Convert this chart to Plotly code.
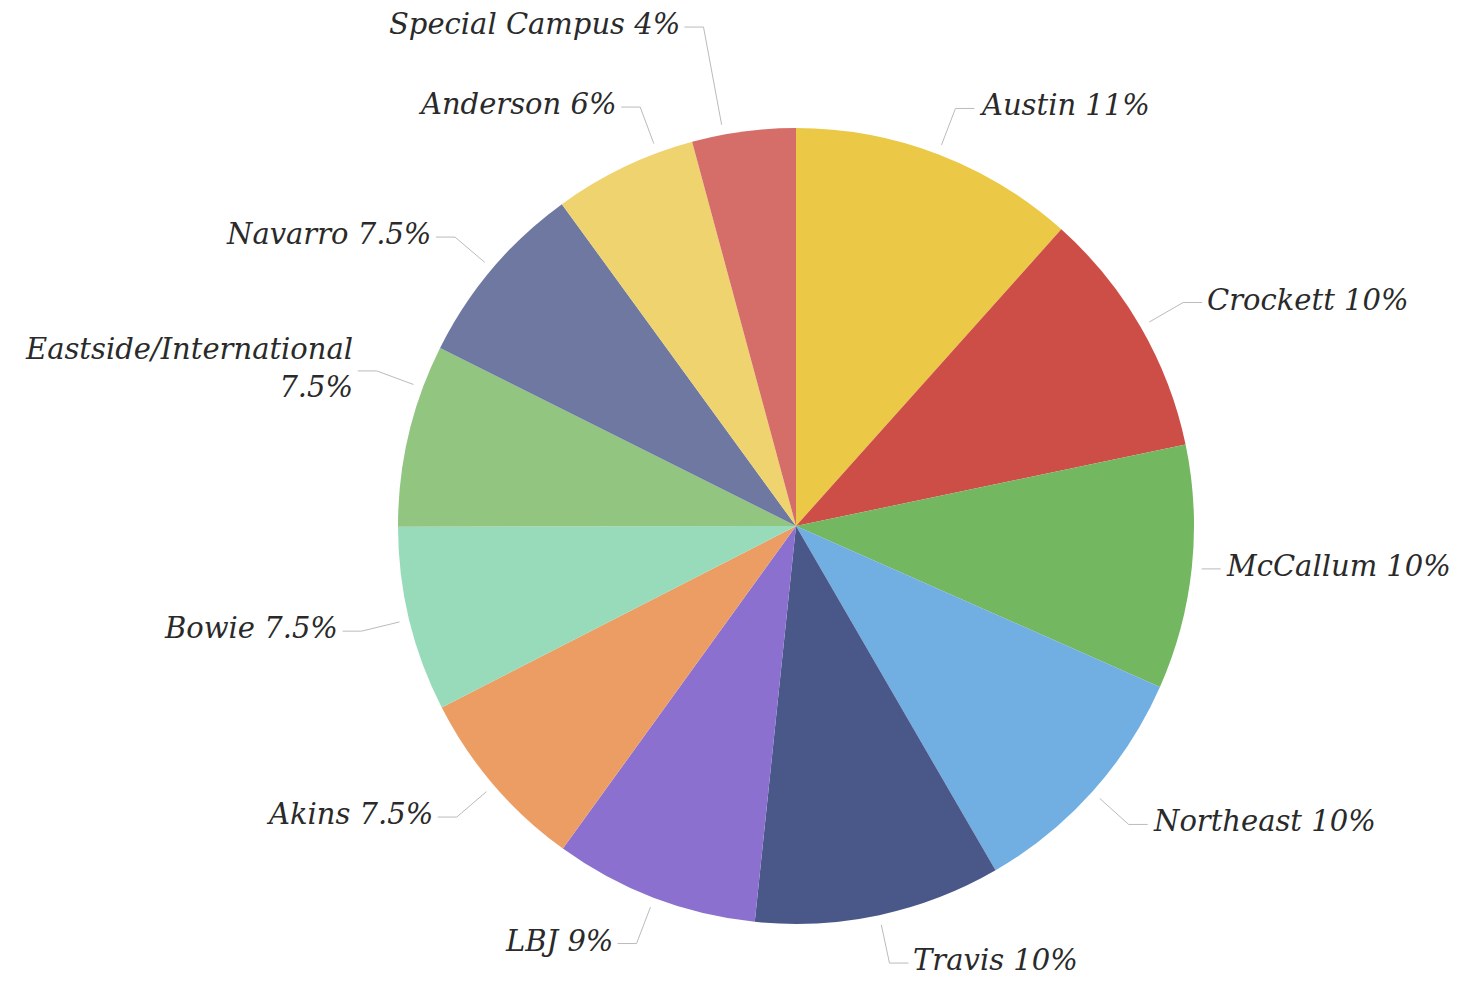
import math
import plotly.graph_objects as go

# campus share of the total
campuses = ["Austin", "Crockett", "McCallum", "Northeast", "Travis", "LBJ",
            "Akins", "Bowie", "Eastside/International", "Navarro", "Anderson",
            "Special Campus"]
# slice sizes as drawn
slice_sizes = [11.6, 10.1, 9.9, 10, 10, 8.3, 7.5, 7.5, 7.4, 7.6, 5.8, 4.2]
# percentages as printed on the labels
label_pct = ["11%", "10%", "10%", "10%", "10%", "9%", "7.5%", "7.5%", "7.5%",
             "7.5%", "6%", "4%"]
colors = ["#EBC846", "#CD4D47", "#73B761", "#71AEE1", "#4A5889", "#8B70CF",
          "#EC9D64", "#98DBBA", "#91C580", "#6E78A1", "#EFD36E", "#D56D69"]

# the page body has an 8px margin, so the figure is 16px smaller than the window
W, H = 1448, 968
CX, CY, R = 788, 518, 398  # pie centre and radius in figure pixels

# labels that the original moved off their slice's mid angle
# (angle in degrees clockwise from 12 o'clock, bend radius as a share of R)
label_override = {
    "McCallum": dict(bend=1.025),
    "Eastside/International": dict(angle=290.3),
    "Anderson": dict(angle=339.6),
    "Special Campus": dict(angle=349.5, bend=1.275),
}


def px(x):
    return x / W


def py(y):
    return 1 - y / H


fig = go.Figure()

fig.add_trace(go.Pie(
    labels=campuses,
    values=slice_sizes,
    sort=False,
    direction="clockwise",
    rotation=0,
    textinfo="none",
    hoverinfo="label",
    marker=dict(colors=colors, line=dict(width=0)),
    domain=dict(x=[px(CX - R), px(CX + R)], y=[py(CY + R), py(CY - R)]),
    showlegend=False,
))

# leader lines and labels, placed from each slice's mid angle
total = sum(slice_sizes)
cum = 0
shapes = []
annotations = []
for name, v, pct in zip(campuses, slice_sizes, label_pct):
    mid = 360 * (cum + v / 2) / total
    cum += v
    ov = label_override.get(name, {})
    theta = math.radians(ov.get("angle", mid))
    bend_r = ov.get("bend", 1.123)
    s, c = math.sin(theta), math.cos(theta)
    ax, ay = CX + R * 1.025 * s, CY - R * 1.025 * c
    bx, by = CX + R * bend_r * s, CY - R * bend_r * c
    right = s > 0
    ex = bx + 19 if right else bx - 19
    tx = ex + 4 if right else ex - 4

    shapes.append(dict(type="path", xref="paper", yref="paper",
                       path=f"M {px(ax)},{py(ay)} L {px(bx)},{py(by)} L {px(ex)},{py(by)}",
                       line=dict(color="#BBBBBB", width=1)))

    label = f"{name} {pct}"
    if name == "Eastside/International":
        label = f"{name}<br>{pct}"
    annotations.append(dict(
        x=px(tx), y=py(by - 3), xref="paper", yref="paper",
        text=label, showarrow=False, borderpad=0,
        xanchor="left" if right else "right", yanchor="middle",
        align="left" if right else "right",
        font=dict(family="DejaVu Serif", size=29, color="#2A2A2A", style="italic"),
    ))

fig.update_layout(
    width=W, height=H,
    margin=dict(l=0, r=0, t=0, b=0),
    paper_bgcolor="white",
    plot_bgcolor="white",
    shapes=shapes,
    annotations=annotations,
)

fig.write_html("out.html")
